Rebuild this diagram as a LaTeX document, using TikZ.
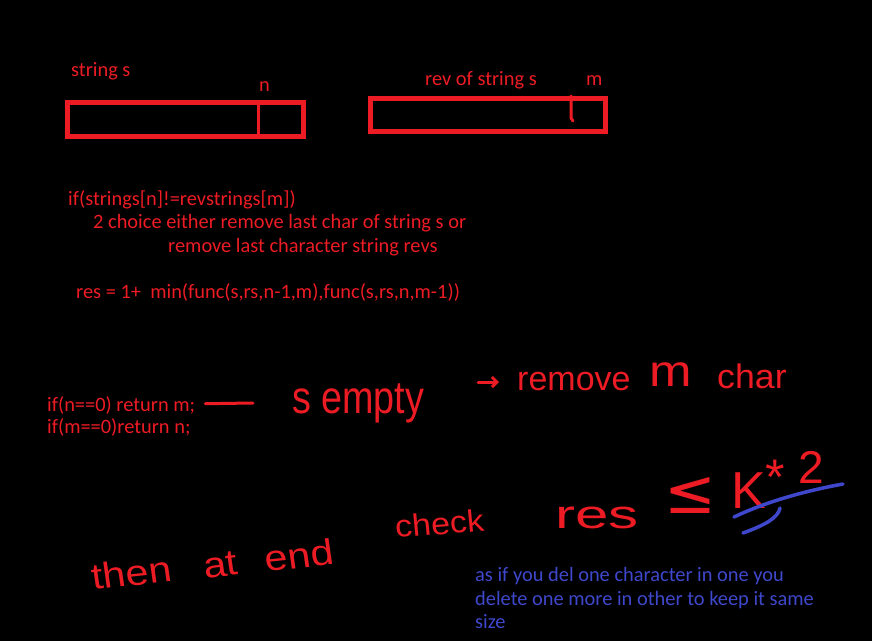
\documentclass[tikz,border=0pt]{standalone}
\usepackage{fontspec}
\setmainfont{Carlito}
\newfontfamily\handfont{Liberation Sans}
\newfontfamily\symfont{DejaVu Sans}
\usetikzlibrary{calc,arrows.meta}
\definecolor{pred}{HTML}{ED1C24}
\definecolor{pblue}{HTML}{3F48CC}
\begin{document}
\begin{tikzpicture}[x=1pt,y=-1pt,
  typed/.style={text=pred, font=\fontsize{20.4}{24}\selectfont, anchor=base west, inner sep=0pt},
  note/.style={typed, text=pblue},
  hand/.style={text=pred, font=\handfont\fontsize{#1}{#1}\selectfont, inner sep=0pt, anchor=base west},
  strbox/.style={draw=pred, line width=5pt, inner sep=0pt},
  pen/.style={draw=pred, line width=3.5pt, line cap=round, line join=round},
  bluepen/.style={draw=pblue, line width=3.5pt, line cap=round, line join=round}]
\fill[black] (0,0) rectangle (872,641);
\useasboundingbox (0,0) rectangle (872,641);

% string boxes
\node[strbox, minimum width=235.5pt, minimum height=34pt] (box1) at (185.25,119) {};
\node[strbox, minimum width=235pt, minimum height=33pt] (box2) at (488,115) {};
\coordinate (nx) at (258,0);
\coordinate (mx) at (571,0);
\draw[pen, line width=3pt, line cap=butt] (box1.north -| nx) -- (box1.south -| nx);
\draw[pen, line width=3pt] (box2.north -| mx) -- ($(box2.north -| mx)+(0,22)$) -- ($(box2.north -| mx)+(2,25)$);

\node[typed] (lbls) at (71,76) {string s};
\node[typed] (lbln) at (259,91.5) {n};
\node[typed] (lblrev) at (425,85) {rev of string s};
\node[typed] (lblm) at (586,85) {m};

% typed lines
\node[typed] (cond) at (68,205) {if(strings[n]!=revstrings[m])};
\node[typed] (choice1) at (93,228) {2 choice either remove last char of string s or};
\node[typed] (choice2) at (168,252) {remove last character string revs};
\node[typed] (res) at (76,298) {res = 1+\ \ min(func(s,rs,n-1,m),func(s,rs,n,m-1))};
\node[typed] (ret1) at (47,411.7) {if(n==0) return m;};
\node[typed] (ret2) at (47,433) {if(m==0)return n;};

% handwritten notes
\node[hand=46, xscale=0.82] (empty) at (292,413) {s empty};
\draw[pen, line width=3pt] ($(ret1.base east)+(10,-8)$) -- ($(empty.base west)+(-39,-10)$);
\node[hand=34] (remove) at (517,390) {remove};
\node[hand=34, xscale=1.5, yscale=1.3] (mm) at (649,386) {m};
\node[hand=34, xscale=1.05] (char) at (717,388) {char};
\draw[pen, line width=3pt, -{Straight Barb[length=5pt,width=10pt]}] ($(remove.base west)+(-39,-8)$) -- ($(remove.base west)+(-18,-8)$);

\node[hand=36, xscale=1.15, rotate=7] (thenend) at (93,590) {then\hspace{28pt}at\hspace{24pt}end};
\node[hand=31, xscale=1.1, rotate=5] (check) at (396,538) {check};

\node[hand=40, xscale=1.5] (resw) at (555,528) {res};
\node[text=pred, font=\symfont\fontsize{62}{62}\selectfont, inner sep=0pt, anchor=base west] (le) at (664,513) {≤};
\node[hand=52] (k2) at (731,508) {K\raisebox{14pt}{\fontsize{50}{50}\selectfont *}\hspace{13pt}\raisebox{25pt}{\fontsize{46}{46}\selectfont 2}};
\draw[bluepen] (734,517) .. controls (770,500) and (810,490) .. (843,484);
\draw[bluepen] (743,533) .. controls (765,525) and (778,518) .. (780,508);

% blue note
\node[note] (note1) at (475,581.7) {as if you del one character in one you};
\node[note] (note2) at (475,605) {delete one more in other to keep it same};
\node[note] (note3) at (475,628) {size};
\end{tikzpicture}
\end{document}
